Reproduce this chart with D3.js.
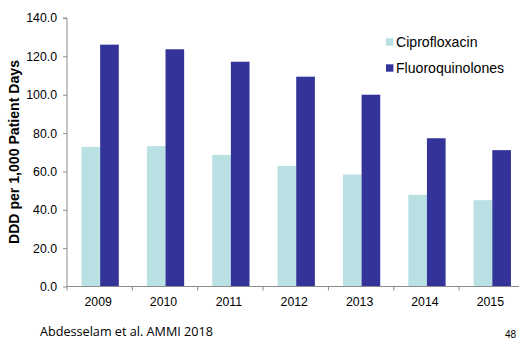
<!DOCTYPE html>
<html><head><meta charset="utf-8">
<script src="https://cdn.jsdelivr.net/npm/d3@7"></script>
<style>body{margin:0;background:#fff;}svg{display:block;}</style>
</head><body>
<svg id="c" width="519" height="339"></svg>
<script>
const years = ["2009","2010","2011","2012","2013","2014","2015"];
const seriesNames = ["Ciprofloxacin","Fluoroquinolones"];
const cipro = [72.8, 73.2, 68.6, 62.9, 58.4, 47.8, 45.0];
const fluoro = [126.1, 123.7, 117.2, 109.4, 100.0, 77.3, 71.1];
const yTicks = [0,20,40,60,80,100,120,140];
const colors = ["#B9E0E3","#333399"];

const svg = d3.select("#c");
const x0 = 67, x1 = 524.5, yTop = 18, yBot = 286.5;
const x = d3.scaleBand().domain(years).range([x0, x1]).paddingInner(0).paddingOuter(0);
const xs = d3.scaleBand().domain(seriesNames).range([14.5, 51.8]);
const y = d3.scaleLinear().domain([0,140]).range([yBot, yTop]);

const data = years.map((yr,i)=>({yr, vals:[cipro[i], fluoro[i]]}));
const g = svg.append("g");
data.forEach(d=>{
  d.vals.forEach((v,j)=>{
    g.append("rect")
      .attr("x", x(d.yr)+xs(seriesNames[j]))
      .attr("y", y(v))
      .attr("width", xs.bandwidth())
      .attr("height", yBot - y(v))
      .attr("fill", colors[j]);
  });
});

// Y axis
const yAxis = d3.axisLeft(y).tickValues(yTicks).tickFormat(d3.format(".1f")).tickSize(4).tickPadding(6);
const ya = svg.append("g").attr("transform",`translate(${x0},0)`).call(yAxis);
ya.select(".domain").attr("stroke","#8c8c8c").attr("d",`M-4,${yTop}H0V${yBot}`);
ya.selectAll(".tick line").attr("stroke","#8c8c8c");
ya.selectAll(".tick text").attr("font-family","Liberation Sans, Arial, sans-serif").attr("font-size",12.3).attr("fill","#000");

// X axis
const xa = svg.append("g").attr("transform",`translate(0,${yBot})`);
xa.append("line").attr("x1",x0).attr("x2",519).attr("stroke","#8c8c8c");
years.forEach(yr=>{
  xa.append("line").attr("x1",x(yr)).attr("x2",x(yr)).attr("y1",0).attr("y2",4).attr("stroke","#8c8c8c");
  xa.append("text").attr("x",x(yr)+x.bandwidth()/2 - 1.5).attr("y",19)
    .attr("text-anchor","middle").attr("font-family","Liberation Sans, Arial, sans-serif")
    .attr("font-size",12.3).attr("fill","#000").text(yr);
});

// Y title
svg.append("text").attr("transform","translate(19,152) rotate(-90)")
  .attr("text-anchor","middle").attr("font-family","Liberation Sans, Arial, sans-serif")
  .attr("font-weight","bold").attr("font-size",14.1).attr("fill","#000")
  .text("DDD per 1,000 Patient Days");

// Legend
const leg = svg.append("g");
const legY = [38.3, 64.3];
seriesNames.forEach((n,j)=>{
  leg.append("rect").attr("x",386).attr("y",legY[j]).attr("width",7.4).attr("height",7.4).attr("fill",colors[j]);
  leg.append("text").attr("x",396).attr("y",legY[j]+9).attr("font-family","Liberation Sans, Arial, sans-serif")
    .attr("font-size",14.1).attr("fill","#000").text(n);
});

// Footnote
svg.append("text").attr("x",40).attr("y",336).attr("font-family","Open Sans, sans-serif")
  .attr("font-size",13).attr("fill","#000").attr("textLength",173).attr("lengthAdjust","spacingAndGlyphs")
  .text("Abdesselam et al. AMMI 2018");
svg.append("text").attr("x",505).attr("y",337.5).attr("font-family","Liberation Sans, Arial, sans-serif")
  .attr("font-size",10).attr("fill","#000").text("48");
</script>
</body></html>
